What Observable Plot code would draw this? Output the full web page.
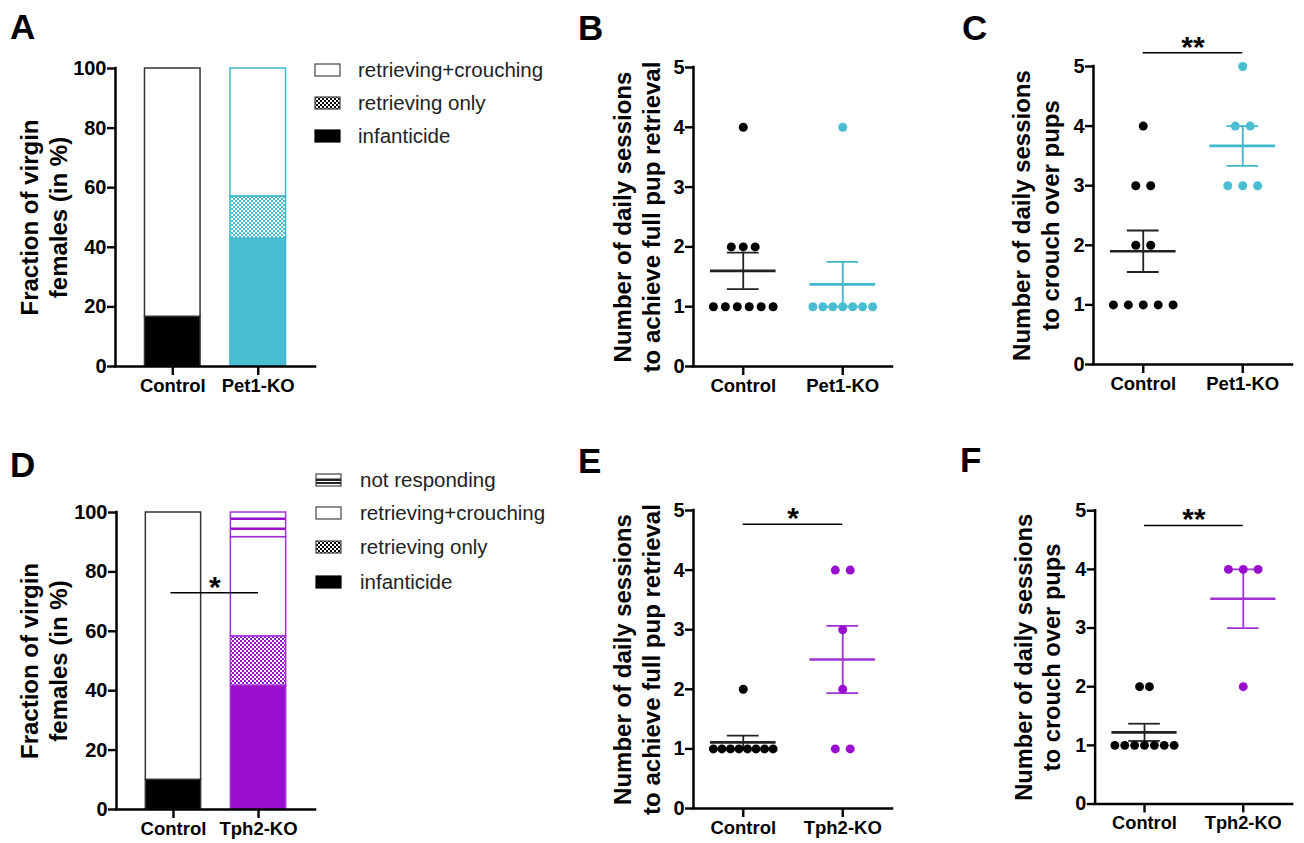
<!DOCTYPE html>
<html><head><meta charset="utf-8">
<script src="https://cdn.jsdelivr.net/npm/d3@7"></script>
<script src="https://cdn.jsdelivr.net/npm/@observablehq/plot@0.6"></script>
<style>
html,body{margin:0;padding:0;background:#fff;}
#fig{position:relative;width:1304px;height:843px;overflow:hidden;font-family:"Liberation Sans",Arial,Helvetica,sans-serif;}
.panel{position:absolute;}
.panel svg{overflow:visible;}
.panel g[aria-label*="axis"] line, .panel g[aria-label*="axis"] path{stroke-width:2.4px;stroke:#000;}
.panel g[aria-label^="x-axis"] text{font-size:18.5px !important;font-weight:bold !important;}
.panel g[aria-label^="y-axis"] text{font-size:20px !important;font-weight:bold !important;}
#overlay{position:absolute;left:0;top:0;pointer-events:none;}
</style>
</head><body>
<svg width="0" height="0" style="position:absolute">
<defs>
<pattern id="chkTeal" width="4" height="4" patternUnits="userSpaceOnUse"><rect width="4" height="4" fill="#fff"/><rect width="2" height="2" fill="#4bbdd2"/><rect x="2" y="2" width="2" height="2" fill="#4bbdd2"/></pattern>
<pattern id="chkPurple" width="4" height="4" patternUnits="userSpaceOnUse"><rect width="4" height="4" fill="#fff"/><rect width="2" height="2" fill="#9a0fce"/><rect x="2" y="2" width="2" height="2" fill="#9a0fce"/></pattern>
<pattern id="chkBlack" width="4" height="4" patternUnits="userSpaceOnUse"><rect width="4" height="4" fill="#fff"/><rect width="2" height="2" fill="#000"/><rect x="2" y="2" width="2" height="2" fill="#000"/></pattern>
<pattern id="stripePurple" width="4" height="10" patternUnits="userSpaceOnUse"><rect width="4" height="10" fill="#fff"/><rect y="7.5" width="4" height="2.5" fill="#9a0fce"/></pattern>
</defs>
</svg>
<div id="fig"></div>
<script>
// ---------- data ----------
const groupsPet1 = ["Control", "Pet1-KO"];
const groupsTph2 = ["Control", "Tph2-KO"];
const behaviours = ["infanticide", "retrieving only", "retrieving+crouching", "not responding"];
// percentages per behaviour (order as in behaviours)
const pctPet1Control = [16.7, 0, 83.3, 0];
const pctPet1KO = [42.9, 14.2, 42.9, 0];
const pctTph2Control = [10, 0, 90, 0];
const pctTph2KO = [41.7, 16.6, 33.4, 8.3];
// sessions to achieve full pup retrieval
const retrievalPet1Control = [4, 2, 2, 2, 1, 1, 1, 1, 1, 1];
const retrievalPet1KO = [4, 1, 1, 1, 1, 1, 1, 1];
const retrievalTph2Control = [2, 1, 1, 1, 1, 1, 1, 1, 1];
const retrievalTph2KO = [4, 4, 3, 2, 1, 1];
// sessions to crouch over pups
const crouchPet1Control = [4, 3, 3, 2, 2, 1, 1, 1, 1, 1];
const crouchPet1KO = [5, 4, 4, 3, 3, 3];
const crouchTph2Control = [2, 2, 1, 1, 1, 1, 1, 1, 1];
const crouchTph2KO = [4, 4, 4, 2];
const pctTicks = [0, 20, 40, 60, 80, 100];
const sessionTicks = [0, 1, 2, 3, 4, 5];
// significance annotations
const sigC = [{from: 1, to: 2, y: 5.23, label: "**"}];
const sigD = [{from: 0.97, to: 2, y: 73, label: "*"}];
const sigE = [{from: 1, to: 2, y: 4.77, label: "*"}];
const sigF = [{from: 1, to: 2, y: 4.75, label: "**"}];

// ---------- styles ----------
const FONT = '"Liberation Sans", Arial, Helvetica, sans-serif';
const TEAL = "#4bbdd2", TEAL_LINE = "#3fb7ce";
const PURPLE = "#9a0fce", PURPLE_LINE = "#a232d6";
const MT = 62, MB = 50, MR = 12;
const fig = document.getElementById("fig");

function place(svg, frame, ML) {
  const div = document.createElement("div");
  div.className = "panel";
  div.style.left = (frame.l - ML) + "px";
  div.style.top = (frame.t - MT) + "px";
  div.appendChild(svg);
  fig.appendChild(div);
}
function base(frame, ML) {
  return {
    width: ML + (frame.r - frame.l) + MR,
    height: MT + (frame.b - frame.t) + MB,
    marginLeft: ML, marginRight: MR, marginTop: MT, marginBottom: MB,
    style: {fontFamily: FONT, fontSize: "20px", fontWeight: "bold", color: "#000", background: "none", overflow: "visible"}
  };
}
function titleMark(title, dx) {
  return Plot.text([title], {text: d => d, frameAnchor: "left", textAnchor: "middle", lineAnchor: "middle", rotate: -90, dx,
    fontSize: 24, fontWeight: "bold", lineHeight: 1.2, fill: "#000"});
}
function sigMarks(sig) {
  return [
    Plot.ruleY(sig, {y: "y", x1: "from", x2: "to", stroke: "#000", strokeWidth: 1.5}),
    Plot.text(sig, {x: d => (d.from + d.to) / 2, y: "y", text: "label", lineAnchor: "bottom", dy: 4, fontSize: 30, fontWeight: "bold", fill: "#000"})
  ];
}
const xAxisOpts = {ticks: [1, 2], tickSize: 9, tickPadding: 3, label: null};
const yAxisOpts = {tickSize: 8, tickPadding: 1, label: null, tickFormat: d3.format("d")};

function barPanel(frame, ML, groups, pcts, fills, strokes, title, dxTitle, sig) {
  const segs = [];
  pcts.forEach((arr, gi) => {
    let acc = 0;
    arr.forEach((v, bi) => {
      if (v > 0) segs.push({x: gi + 1, y1: acc, y2: acc + v, g: gi, b: bi});
      acc += v;
    });
  });
  const xd = [0.33, 2.67];
  const svg = Plot.plot({...base(frame, ML),
    x: {...xAxisOpts, domain: xd, tickFormat: i => groups[i - 1]},
    y: {...yAxisOpts, domain: [0, 100], ticks: pctTicks},
    color: {type: "identity"},
    marks: [
      Plot.rect(segs, {x1: d => d.x - 0.325, x2: d => d.x + 0.325, y1: "y1", y2: "y2",
        fill: d => fills[d.g][d.b], stroke: d => strokes[d.g], strokeWidth: 1.5}),
      Plot.ruleX([xd[0]], {y1: 0, y2: 100, stroke: "#000", strokeWidth: 2.5, strokeLinecap: "square"}),
      Plot.ruleY([0], {x1: xd[0], x2: xd[1], stroke: "#000", strokeWidth: 2.5, strokeLinecap: "square"}),
      titleMark(title, dxTitle),
      ...(sig ? sigMarks(sig) : [])
    ]});
  place(svg, frame, ML);
}

function scatterPanel(frame, ML, groups, series, colors, lineColors, title, dxTitle, sig) {
  const dots = [], stats = [];
  series.forEach((vals, gi) => {
    const x0 = gi + 1;
    const counts = d3.rollup(vals, v => v.length, v => v);
    const maxCount = d3.max(counts.values());
    const step = maxCount > 1 ? Math.min(0.15, 0.6 / (maxCount - 1)) : 0;
    for (const [v, k] of counts) for (let i = 0; i < k; i++) dots.push({x: x0 + (i - (k - 1) / 2) * step, y: v, g: gi});
    const m = d3.mean(vals), sem = d3.deviation(vals) / Math.sqrt(vals.length);
    stats.push({x: x0, mean: m, lo: m - sem, hi: m + sem, g: gi});
  });
  const caps = stats.flatMap(s => [{...s, y: s.lo}, {...s, y: s.hi}]);
  const xd = [0.5, 2.5];
  const svg = Plot.plot({...base(frame, ML),
    x: {...xAxisOpts, domain: xd, tickFormat: i => groups[i - 1]},
    y: {...yAxisOpts, domain: [0, 5], ticks: sessionTicks},
    color: {type: "identity"},
    marks: [
      Plot.ruleX([xd[0]], {y1: 0, y2: 5, stroke: "#000", strokeWidth: 2.5, strokeLinecap: "square"}),
      Plot.ruleY([0], {x1: xd[0], x2: xd[1], stroke: "#000", strokeWidth: 2.5, strokeLinecap: "square"}),
      Plot.ruleX(stats, {x: "x", y1: "lo", y2: "hi", stroke: d => lineColors[d.g], strokeWidth: 1.8}),
      Plot.ruleY(caps, {y: "y", x1: d => d.x - 0.16, x2: d => d.x + 0.16, stroke: d => lineColors[d.g], strokeWidth: 1.8}),
      Plot.ruleY(stats, {y: "mean", x1: d => d.x - 0.33, x2: d => d.x + 0.33, stroke: d => lineColors[d.g], strokeWidth: 2.7}),
      Plot.dot(dots, {x: "x", y: "y", r: 4.5, fill: d => colors[d.g], stroke: "none"}),
      titleMark(title, dxTitle),
      ...(sig ? sigMarks(sig) : [])
    ]});
  place(svg, frame, ML);
}

const fillsControl = ["#000", "url(#chkBlack)", "#fff", "#fff"];
const fillsPet1 = [TEAL, "url(#chkTeal)", "#fff", "#fff"];
const fillsTph2 = [PURPLE, "url(#chkPurple)", "#fff", "url(#stripePurple)"];
const fracTitle = "Fraction of virgin\nfemales (in %)";
const retTitle = "Number of daily sessions\nto achieve full pup retrieval";
const crTitle = "Number of daily sessions\nto crouch over pups";

barPanel({l: 115, r: 315, t: 68, b: 366}, 110, groupsPet1, [pctPet1Control, pctPet1KO],
  [fillsControl, fillsPet1], ["#333", TEAL_LINE], fracTitle, -72, null);
scatterPanel({l: 693, r: 892, t: 67, b: 366}, 110, groupsPet1, [retrievalPet1Control, retrievalPet1KO],
  ["#000", TEAL], ["#222", TEAL_LINE], retTitle, -57, null);
scatterPanel({l: 1093, r: 1292, t: 66, b: 364}, 110, groupsPet1, [crouchPet1Control, crouchPet1KO],
  ["#000", TEAL], ["#222", TEAL_LINE], crTitle, -58, sigC);
barPanel({l: 116, r: 315, t: 512, b: 809}, 110, groupsTph2, [pctTph2Control, pctTph2KO],
  [fillsControl, fillsTph2], ["#333", PURPLE_LINE], fracTitle, -73, sigD);
scatterPanel({l: 693, r: 892, t: 510, b: 808}, 110, groupsTph2, [retrievalTph2Control, retrievalTph2KO],
  ["#000", PURPLE], ["#222", PURPLE_LINE], retTitle, -57, sigE);
scatterPanel({l: 1096, r: 1296, t: 511, b: 808}, 110, groupsTph2, [crouchTph2Control, crouchTph2KO],
  ["#000", PURPLE], ["#222", PURPLE_LINE], crTitle, -59, sigF);

// ---------- panel letters and legends ----------
const ov = d3.select(fig).append("svg").attr("id", "overlay").attr("width", 1304).attr("height", 843)
  .style("font-family", FONT);
const letters = [["A", 10, 39], ["B", 578, 40], ["C", 962, 40], ["D", 10, 477], ["E", 578, 473], ["F", 960, 472]];
ov.selectAll("text.letter").data(letters).join("text").attr("class", "letter")
  .attr("x", d => d[1]).attr("y", d => d[2]).attr("font-size", 35).attr("font-weight", "bold")
  .text(d => d[0]);

function legend(x0, tx, rows) {
  rows.forEach(([label, kind, cy]) => {
    const g = ov.append("g");
    const fill = kind === "solid" ? "#000" : kind === "check" ? "url(#chkBlack)" : "#fff";
    g.append("rect").attr("x", x0).attr("y", cy - 6).attr("width", 25).attr("height", 12)
      .attr("fill", fill).attr("stroke", kind === "solid" ? "#000" : "#444").attr("stroke-width", 1.2);
    if (kind === "stripe") {
      g.append("rect").attr("x", x0).attr("y", cy - 1.5).attr("width", 25).attr("height", 2.5).attr("fill", "#222");
      g.append("rect").attr("x", x0).attr("y", cy + 2).attr("width", 25).attr("height", 2).attr("fill", "#222");
    }
    g.append("text").attr("x", tx).attr("y", cy).attr("dy", "0.36em").attr("font-size", 20.5).attr("fill", "#222").text(label);
  });
}
legend(315, 358, [[behaviours[2], "open", 70], [behaviours[1], "check", 103], [behaviours[0], "solid", 136]]);
legend(316, 360, [[behaviours[3], "stripe", 480], [behaviours[2], "open", 513], [behaviours[1], "check", 547], [behaviours[0], "solid", 582]]);
</script>
</body></html>
